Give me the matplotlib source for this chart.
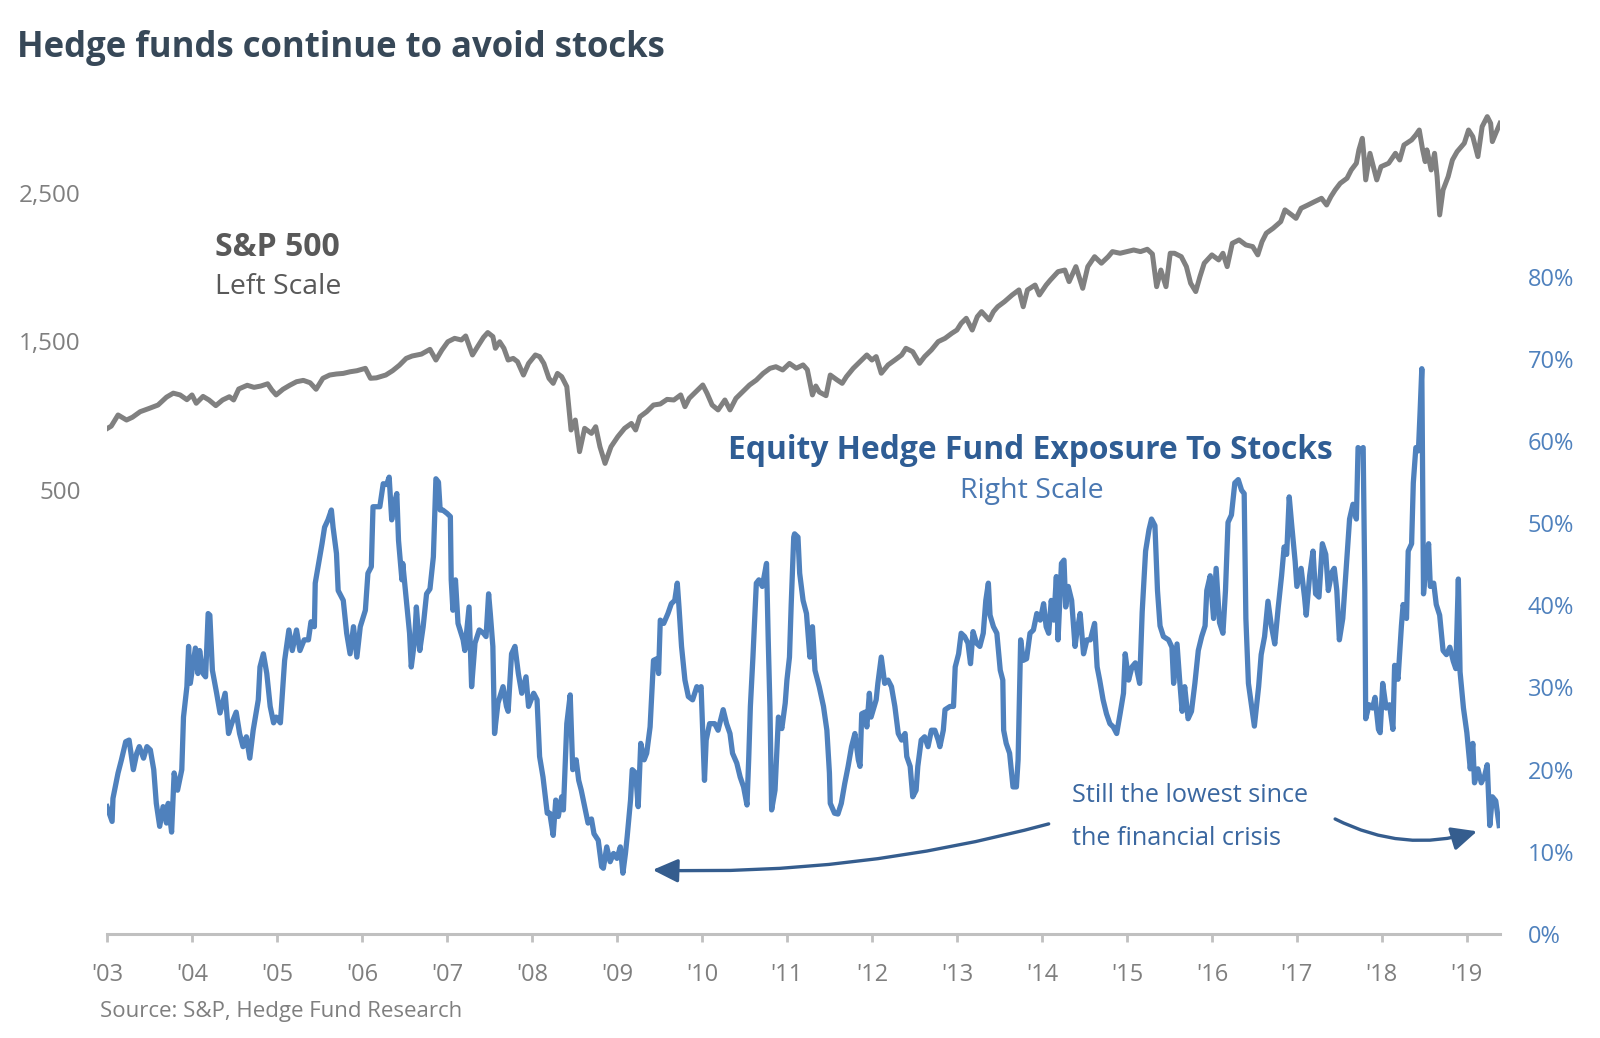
import matplotlib
matplotlib.use("Agg")
import matplotlib.pyplot as plt

plt.rcParams['font.family'] = ['Open Sans', 'DejaVu Sans']

# ---------------- data ----------------
year_ticks = list(range(2003, 2020))
year_labels = ["'%02d" % (y % 100) for y in year_ticks]
left_ticks = [500, 1500, 2500]
left_labels = ["500", "1,500", "2,500"]
right_ticks = [0, 10, 20, 30, 40, 50, 60, 70, 80]
right_labels = ["%d%%" % v for v in right_ticks]

sp_year = [2003.00, 2003.05, 2003.13, 2003.23, 2003.30, 2003.39, 2003.50, 2003.60, 2003.70, 2003.78,
           2003.86, 2003.94, 2004.00, 2004.05, 2004.13, 2004.20, 2004.28, 2004.36, 2004.44, 2004.49,
           2004.55, 2004.65, 2004.73, 2004.81, 2004.89, 2004.94, 2004.99, 2005.07, 2005.15, 2005.23,
           2005.31, 2005.39, 2005.46, 2005.54, 2005.62, 2005.70, 2005.78, 2005.86, 2005.94, 2006.04,
           2006.10, 2006.17, 2006.28, 2006.36, 2006.44, 2006.52, 2006.59, 2006.70, 2006.80, 2006.87,
           2006.94, 2007.01, 2007.09, 2007.17, 2007.22, 2007.30, 2007.36, 2007.43, 2007.48, 2007.54,
           2007.57, 2007.62, 2007.67, 2007.72, 2007.78, 2007.83, 2007.90, 2007.96, 2008.04, 2008.09,
           2008.14, 2008.20, 2008.25, 2008.30, 2008.35, 2008.41, 2008.46, 2008.51, 2008.56, 2008.62,
           2008.70, 2008.75, 2008.80, 2008.86, 2008.93, 2009.01, 2009.09, 2009.17, 2009.22, 2009.27,
           2009.35, 2009.43, 2009.51, 2009.59, 2009.67, 2009.75, 2009.80, 2009.85, 2009.93, 2010.01,
           2010.06, 2010.12, 2010.19, 2010.27, 2010.33, 2010.40, 2010.48, 2010.56, 2010.64, 2010.72,
           2010.80, 2010.87, 2010.95, 2011.03, 2011.11, 2011.19, 2011.24, 2011.30, 2011.34, 2011.38,
           2011.46, 2011.51, 2011.59, 2011.65, 2011.70, 2011.78, 2011.86, 2011.94, 2012.00, 2012.05,
           2012.11, 2012.19, 2012.27, 2012.35, 2012.40, 2012.48, 2012.56, 2012.62, 2012.70, 2012.78,
           2012.86, 2012.94, 2013.00, 2013.05, 2013.11, 2013.18, 2013.24, 2013.29, 2013.38, 2013.43,
           2013.48, 2013.56, 2013.65, 2013.73, 2013.78, 2013.83, 2013.92, 2013.97, 2014.05, 2014.10,
           2014.19, 2014.27, 2014.32, 2014.40, 2014.48, 2014.54, 2014.62, 2014.70, 2014.78, 2014.83,
           2014.92, 2015.00, 2015.08, 2015.16, 2015.24, 2015.30, 2015.35, 2015.40, 2015.46, 2015.51,
           2015.56, 2015.64, 2015.70, 2015.75, 2015.81, 2015.86, 2015.91, 2016.00, 2016.08, 2016.13,
           2016.18, 2016.24, 2016.32, 2016.40, 2016.48, 2016.54, 2016.59, 2016.64, 2016.72, 2016.81,
           2016.86, 2016.94, 2016.99, 2017.05, 2017.13, 2017.21, 2017.29, 2017.35, 2017.40, 2017.45,
           2017.51, 2017.59, 2017.64, 2017.70, 2017.73, 2017.77, 2017.79, 2017.81, 2017.86, 2017.91,
           2017.94, 2017.99, 2018.08, 2018.16, 2018.21, 2018.26, 2018.35, 2018.40, 2018.44, 2018.48,
           2018.51, 2018.53, 2018.58, 2018.62, 2018.65, 2018.68, 2018.72, 2018.78, 2018.83, 2018.885,
           2018.97, 2019.02, 2019.07, 2019.13, 2019.18, 2019.24, 2019.28, 2019.30, 2019.34, 2019.39]
sp_value = [913, 930, 1005, 971, 990, 1027, 1050, 1072, 1125, 1152,
            1140, 1108, 1140, 1084, 1130, 1106, 1068, 1106, 1128, 1106,
            1180, 1205, 1191, 1200, 1215, 1173, 1140, 1178, 1205, 1229,
            1238, 1222, 1178, 1252, 1274, 1281, 1285, 1296, 1303, 1319,
            1252, 1255, 1274, 1303, 1340, 1386, 1402, 1415, 1447, 1375,
            1442, 1498, 1521, 1510, 1537, 1409, 1465, 1528, 1560, 1533,
            1454, 1498, 1454, 1375, 1386, 1364, 1274, 1352, 1409, 1398,
            1352, 1252, 1218, 1285, 1263, 1196, 904, 971, 758, 915,
            881, 926, 791, 679, 791, 859, 915, 948, 904, 993,
            1027, 1072, 1079, 1110, 1106, 1140, 1061, 1117, 1162, 1207,
            1151, 1072, 1039, 1106, 1039, 1117, 1162, 1207, 1240, 1285,
            1319, 1330, 1308, 1352, 1320, 1342, 1310, 1140, 1200, 1160,
            1135, 1274, 1241, 1218, 1263, 1319, 1364, 1409, 1375, 1398,
            1286, 1342, 1375, 1409, 1454, 1431, 1353, 1398, 1443, 1499,
            1521, 1555, 1577, 1622, 1656, 1577, 1667, 1701, 1645, 1701,
            1734, 1768, 1813, 1847, 1734, 1847, 1880, 1813, 1880, 1914,
            1970, 1981, 1903, 2004, 1858, 2004, 2071, 2027, 2071, 2105,
            2094, 2105, 2116, 2105, 2121, 2089, 1869, 1981, 1869, 2094,
            2094, 2071, 2004, 1892, 1836, 1937, 2027, 2083, 2049, 2094,
            2004, 2161, 2184, 2150, 2139, 2083, 2172, 2229, 2262, 2307,
            2386, 2352, 2329, 2397, 2419, 2442, 2464, 2419, 2475, 2520,
            2565, 2599, 2655, 2700, 2790, 2868, 2745, 2588, 2767, 2655,
            2588, 2677, 2700, 2767, 2722, 2823, 2857, 2891, 2924, 2790,
            2711, 2790, 2655, 2767, 2610, 2352, 2520, 2610, 2722, 2778,
            2835, 2924, 2879, 2745, 2947, 3014, 2969, 2846, 2902, 2969]

hf_year = [2003.00, 2003.06, 2003.07, 2003.13, 2003.17, 2003.22, 2003.26, 2003.31, 2003.35, 2003.38,
           2003.43, 2003.47, 2003.51, 2003.55, 2003.58, 2003.62, 2003.66, 2003.70, 2003.72, 2003.76,
           2003.79, 2003.83, 2003.88, 2003.90, 2003.94, 2003.96, 2003.98, 2004.04, 2004.07, 2004.09,
           2004.13, 2004.16, 2004.19, 2004.21, 2004.24, 2004.29, 2004.33, 2004.39, 2004.43, 2004.47,
           2004.52, 2004.56, 2004.60, 2004.64, 2004.68, 2004.72, 2004.78, 2004.80, 2004.84, 2004.88,
           2004.92, 2004.96, 2004.99, 2005.04, 2005.09, 2005.14, 2005.18, 2005.23, 2005.27, 2005.32,
           2005.37, 2005.40, 2005.44, 2005.45, 2005.49, 2005.53, 2005.56, 2005.60, 2005.64, 2005.66,
           2005.70, 2005.72, 2005.78, 2005.82, 2005.86, 2005.90, 2005.94, 2005.98, 2006.04, 2006.07,
           2006.11, 2006.13, 2006.21, 2006.25, 2006.29, 2006.32, 2006.35, 2006.37, 2006.41, 2006.43,
           2006.47, 2006.48, 2006.53, 2006.56, 2006.58, 2006.62, 2006.64, 2006.68, 2006.72, 2006.76,
           2006.80, 2006.84, 2006.87, 2006.90, 2006.92, 2006.95, 2007.00, 2007.04, 2007.05, 2007.07,
           2007.10, 2007.13, 2007.19, 2007.21, 2007.26, 2007.29, 2007.33, 2007.38, 2007.43, 2007.46,
           2007.49, 2007.51, 2007.54, 2007.56, 2007.60, 2007.66, 2007.70, 2007.72, 2007.76, 2007.80,
           2007.84, 2007.88, 2007.93, 2007.96, 2008.02, 2008.06, 2008.09, 2008.13, 2008.18, 2008.21,
           2008.25, 2008.28, 2008.31, 2008.35, 2008.37, 2008.41, 2008.45, 2008.48, 2008.52, 2008.55,
           2008.58, 2008.62, 2008.66, 2008.70, 2008.73, 2008.78, 2008.82, 2008.84, 2008.88, 2008.92,
           2008.96, 2009.00, 2009.04, 2009.07, 2009.10, 2009.12, 2009.16, 2009.18, 2009.22, 2009.25,
           2009.28, 2009.32, 2009.35, 2009.39, 2009.43, 2009.47, 2009.49, 2009.51, 2009.55, 2009.60,
           2009.64, 2009.68, 2009.71, 2009.73, 2009.76, 2009.80, 2009.84, 2009.89, 2009.94, 2009.97,
           2009.99, 2010.03, 2010.05, 2010.09, 2010.15, 2010.19, 2010.25, 2010.29, 2010.33, 2010.36,
           2010.41, 2010.45, 2010.49, 2010.53, 2010.55, 2010.57, 2010.60, 2010.64, 2010.67, 2010.71,
           2010.76, 2010.78, 2010.80, 2010.82, 2010.86, 2010.90, 2010.94, 2010.98, 2011.00, 2011.03,
           2011.05, 2011.08, 2011.09, 2011.13, 2011.15, 2011.19, 2011.23, 2011.27, 2011.30, 2011.33,
           2011.38, 2011.43, 2011.47, 2011.50, 2011.51, 2011.56, 2011.60, 2011.64, 2011.68, 2011.72,
           2011.76, 2011.80, 2011.84, 2011.86, 2011.88, 2011.92, 2011.94, 2011.97, 2011.99, 2012.05,
           2012.07, 2012.11, 2012.15, 2012.19, 2012.23, 2012.27, 2012.31, 2012.35, 2012.39, 2012.41,
           2012.45, 2012.48, 2012.52, 2012.54, 2012.58, 2012.62, 2012.66, 2012.70, 2012.74, 2012.78,
           2012.80, 2012.84, 2012.86, 2012.92, 2012.96, 2012.98, 2013.02, 2013.05, 2013.09, 2013.13,
           2013.16, 2013.19, 2013.23, 2013.27, 2013.31, 2013.34, 2013.37, 2013.39, 2013.43, 2013.47,
           2013.51, 2013.54, 2013.55, 2013.58, 2013.62, 2013.66, 2013.70, 2013.72, 2013.75, 2013.78,
           2013.82, 2013.86, 2013.90, 2013.94, 2013.98, 2014.02, 2014.05, 2014.08, 2014.11, 2014.14,
           2014.17, 2014.19, 2014.23, 2014.26, 2014.28, 2014.31, 2014.35, 2014.39, 2014.41, 2014.45,
           2014.49, 2014.53, 2014.57, 2014.62, 2014.65, 2014.68, 2014.72, 2014.76, 2014.80, 2014.84,
           2014.88, 2014.92, 2014.96, 2014.98, 2015.02, 2015.06, 2015.10, 2015.15, 2015.18, 2015.22,
           2015.26, 2015.29, 2015.33, 2015.36, 2015.39, 2015.43, 2015.49, 2015.53, 2015.55, 2015.59,
           2015.62, 2015.65, 2015.68, 2015.72, 2015.76, 2015.80, 2015.84, 2015.88, 2015.92, 2015.94,
           2015.98, 2016.02, 2016.05, 2016.09, 2016.13, 2016.16, 2016.19, 2016.23, 2016.27, 2016.31,
           2016.35, 2016.38, 2016.40, 2016.43, 2016.47, 2016.50, 2016.55, 2016.58, 2016.62, 2016.66,
           2016.70, 2016.74, 2016.78, 2016.82, 2016.85, 2016.88, 2016.91, 2016.94, 2016.98, 2017.00,
           2017.05, 2017.09, 2017.11, 2017.15, 2017.19, 2017.22, 2017.26, 2017.30, 2017.34, 2017.37,
           2017.41, 2017.44, 2017.47, 2017.50, 2017.54, 2017.58, 2017.62, 2017.66, 2017.70, 2017.72,
           2017.75, 2017.78, 2017.80, 2017.81, 2017.85, 2017.89, 2017.92, 2017.96, 2017.98, 2018.01,
           2018.05, 2018.09, 2018.13, 2018.15, 2018.19, 2018.23, 2018.25, 2018.29, 2018.31, 2018.35,
           2018.37, 2018.40, 2018.43, 2018.45, 2018.47, 2018.48, 2018.49, 2018.52, 2018.55, 2018.57,
           2018.61, 2018.64, 2018.68, 2018.72, 2018.76, 2018.80, 2018.84, 2018.87, 2018.90, 2018.92,
           2018.96, 2019.00, 2019.04, 2019.07, 2019.09, 2019.13, 2019.17, 2019.21, 2019.24, 2019.27,
           2019.30, 2019.34, 2019.38]
hf_pct = [15.5, 13.7, 16.5, 19.6, 21.2, 23.4, 23.6, 20.0, 22.0, 22.8,
          21.4, 22.8, 22.4, 20.0, 15.9, 13.1, 15.5, 13.5, 15.9, 12.4,
          19.6, 17.5, 20.0, 26.4, 30.1, 35.0, 30.5, 34.8, 31.7, 34.5,
          31.7, 31.3, 39.0, 38.8, 32.1, 29.3, 26.9, 29.3, 24.4, 25.7,
          27.0, 24.4, 22.8, 24.0, 21.4, 24.8, 28.5, 32.5, 34.1, 31.7,
          27.7, 25.7, 26.4, 25.7, 33.3, 37.0, 34.5, 37.0, 34.5, 35.8,
          35.8, 38.0, 37.4, 42.7, 45.1, 47.5, 49.5, 50.4, 51.6, 49.5,
          46.3, 41.8, 40.6, 36.6, 34.1, 37.4, 33.7, 37.4, 39.4, 43.9,
          44.7, 52.0, 52.0, 54.8, 54.7, 55.6, 50.4, 52.0, 53.6, 47.9,
          43.1, 45.1, 39.8, 36.6, 32.5, 35.8, 39.8, 34.5, 37.4, 41.4,
          42.0, 45.9, 55.4, 55.0, 51.6, 51.6, 51.2, 50.8, 43.1, 39.4,
          43.1, 37.8, 35.8, 34.5, 39.8, 30.1, 35.4, 37.0, 36.6, 36.2,
          41.4, 39.0, 35.0, 24.4, 28.1, 30.1, 27.7, 27.1, 34.1, 35.0,
          31.7, 29.3, 31.3, 27.7, 29.3, 28.5, 21.6, 19.1, 14.7, 14.7,
          12.0, 16.3, 14.3, 16.7, 15.1, 25.6, 29.1, 20.0, 21.2, 18.7,
          17.5, 15.5, 13.5, 14.0, 12.2, 11.4, 8.2, 8.0, 10.6, 8.8,
          9.8, 9.2, 10.6, 7.4, 9.8, 11.8, 16.3, 20.0, 19.6, 15.5,
          23.2, 21.2, 22.0, 25.2, 33.3, 33.5, 31.7, 38.2, 37.8, 39.0,
          40.2, 40.6, 42.7, 39.8, 35.0, 30.9, 28.9, 28.5, 30.1, 29.7,
          30.1, 18.7, 23.6, 25.6, 25.6, 24.8, 27.3, 25.6, 24.4, 22.0,
          20.8, 19.1, 17.9, 15.7, 21.2, 27.7, 33.7, 42.7, 43.1, 42.3,
          45.1, 35.8, 27.7, 15.1, 17.5, 26.4, 25.0, 28.1, 30.9, 33.7,
          40.0, 48.3, 48.7, 48.3, 43.9, 40.6, 39.0, 33.7, 37.4, 32.1,
          30.1, 27.7, 24.8, 19.6, 15.9, 14.7, 14.6, 15.9, 18.3, 20.4,
          22.8, 24.4, 21.2, 20.4, 26.8, 27.0, 25.2, 29.3, 26.4, 28.5,
          30.5, 33.7, 30.5, 30.9, 30.1, 27.7, 24.4, 23.6, 24.4, 21.6,
          20.4, 16.7, 17.5, 20.4, 23.6, 24.0, 22.8, 24.8, 24.8, 23.6,
          22.8, 24.8, 27.3, 27.7, 27.7, 32.5, 34.1, 36.6, 36.2, 35.4,
          32.9, 36.8, 35.4, 35.0, 36.6, 40.6, 42.7, 38.8, 37.4, 36.6,
          32.1, 30.9, 24.8, 23.2, 22.0, 17.9, 17.9, 21.2, 35.8, 33.3,
          33.5, 36.6, 37.0, 39.0, 38.2, 40.2, 37.4, 36.6, 40.6, 38.2,
          43.5, 35.8, 45.1, 45.5, 39.8, 42.3, 40.6, 35.0, 36.6, 39.0,
          34.1, 35.8, 35.8, 37.8, 32.5, 30.9, 28.5, 26.8, 25.6, 25.2,
          24.4, 26.8, 29.3, 34.1, 30.9, 32.5, 33.0, 30.5, 39.2, 46.6,
          49.2, 50.5, 49.7, 41.8, 37.5, 36.2, 35.8, 34.9, 30.5, 35.3,
          31.0, 27.1, 30.1, 26.2, 27.1, 30.5, 34.5, 36.2, 37.5, 41.8,
          43.6, 38.4, 44.5, 37.9, 36.6, 41.8, 50.1, 51.0, 54.9, 55.3,
          54.0, 53.6, 38.4, 30.5, 27.5, 25.3, 30.1, 34.0, 36.2, 40.5,
          37.5, 35.3, 39.7, 43.6, 47.1, 46.2, 53.2, 49.7, 45.3, 42.3,
          44.5, 41.0, 38.8, 43.6, 46.6, 41.4, 41.0, 47.5, 46.2, 41.8,
          44.0, 44.5, 41.8, 35.8, 38.4, 44.5, 50.5, 52.3, 50.5, 59.2,
          58.8, 59.2, 41.8, 26.2, 27.9, 27.5, 28.8, 24.9, 24.5, 30.5,
          27.5, 27.9, 24.9, 32.7, 31.0, 37.5, 40.1, 38.4, 46.6, 47.5,
          54.9, 59.2, 58.8, 63.6, 68.8, 54.9, 41.4, 45.0, 47.5, 42.3,
          42.7, 40.1, 38.8, 34.5, 34.0, 34.9, 33.2, 32.3, 43.2, 31.9,
          27.5, 24.5, 20.1, 23.2, 18.4, 20.1, 18.4, 19.3, 20.6, 13.2,
          16.7, 16.2, 13.2]

# ---------------- styling ----------------
W, H = 1600, 1038
fig = plt.figure(figsize=(W / 100, H / 100), dpi=100)
fig.patch.set_facecolor('white')

ax_left, ax_right_px, ax_bottom_px, ax_top_px = 107, 1500, 934, 100
ax = fig.add_axes([ax_left / W, (H - ax_bottom_px) / H,
                   (ax_right_px - ax_left) / W, (ax_bottom_px - ax_top_px) / H])
ax2 = ax.twinx()

GRAY_LINE = '#808080'
BLUE_LINE = '#4f81bd'
TICK_GRAY = '#7f7f7f'
TICK_BLUE = '#4f81bd'
DARK_BLUE = '#2f5d94'
ANN_BLUE = '#3a67a0'

ax.plot(sp_year, sp_value, color=GRAY_LINE, lw=3.6, solid_joinstyle='round', zorder=3)
ax2.plot(hf_year, hf_pct, color=BLUE_LINE, lw=3.8, solid_joinstyle='round', zorder=3)

ax.set_xlim(2003.0, 2019.39)
ax.set_ylim(-2490, 3126)
ax2.set_ylim(0, 101.5)

for a in (ax, ax2):
    for s in ('top', 'left', 'right'):
        a.spines[s].set_visible(False)
ax2.spines['bottom'].set_visible(False)
ax.spines['bottom'].set_color('#c0c0c0')
ax.spines['bottom'].set_linewidth(2.2)

ax.set_xticks(year_ticks)
ax.set_xticklabels(year_labels)
ax.tick_params(axis='x', direction='out', length=6, width=2, color='#c0c0c0',
               labelsize=17, labelcolor=TICK_GRAY, pad=15)
ax.set_yticks(left_ticks)
ax.set_yticklabels(left_labels)
ax.tick_params(axis='y', length=0, labelsize=17.5, labelcolor=TICK_GRAY, pad=19)
ax2.set_yticks(right_ticks)
ax2.set_yticklabels(right_labels)
ax2.tick_params(axis='y', length=0, labelsize=17, labelcolor=TICK_BLUE, pad=20)

# title and source
fig.text(17 / W, 1 - 48 / H, 'Hedge funds continue to avoid stocks', fontsize=25,
         fontweight='bold', color='#374858', ha='left', va='center')
fig.text(100 / W, 1 - 1011 / H, 'Source: S&P, Hedge Fund Research', fontsize=16,
         color=TICK_GRAY, ha='left', va='center')

# series labels
ax2.text(2005.01, 83.6, 'S&P 500', fontsize=23, fontweight='bold', color='#595959',
         ha='center', va='center')
ax2.text(2005.01, 78.7, 'Left Scale', fontsize=20.5, color='#595959', ha='center', va='center')
ax2.text(2013.87, 58.9, 'Equity Hedge Fund Exposure To Stocks', fontsize=22.9,
         fontweight='bold', color=DARK_BLUE, ha='center', va='center')
ax2.text(2013.88, 53.9, 'Right Scale', fontsize=20.5, color='#4a78b2', ha='center', va='center')

# annotation
ax2.text(2014.35, 16.8, 'Still the lowest since', fontsize=18.2, color=ANN_BLUE,
         ha='left', va='center')
ax2.text(2014.35, 11.6, 'the financial crisis', fontsize=18.2, color=ANN_BLUE,
         ha='left', va='center')
arrow_kw = dict(arrowstyle='-|>,head_length=0.9,head_width=0.42', color='#355d8e',
                lw=2.4, shrinkA=0, shrinkB=0, mutation_scale=17)
ax2.annotate('', xy=(2009.42, 7.8), xytext=(2014.08, 13.4),
             arrowprops=dict(connectionstyle='arc3,rad=-0.075', **arrow_kw))
ax2.annotate('', xy=(2019.12, 12.5), xytext=(2017.45, 14.0),
             arrowprops=dict(connectionstyle='arc3,rad=0.2', **arrow_kw))

fig.savefig('out.png', dpi=100, facecolor='white')
